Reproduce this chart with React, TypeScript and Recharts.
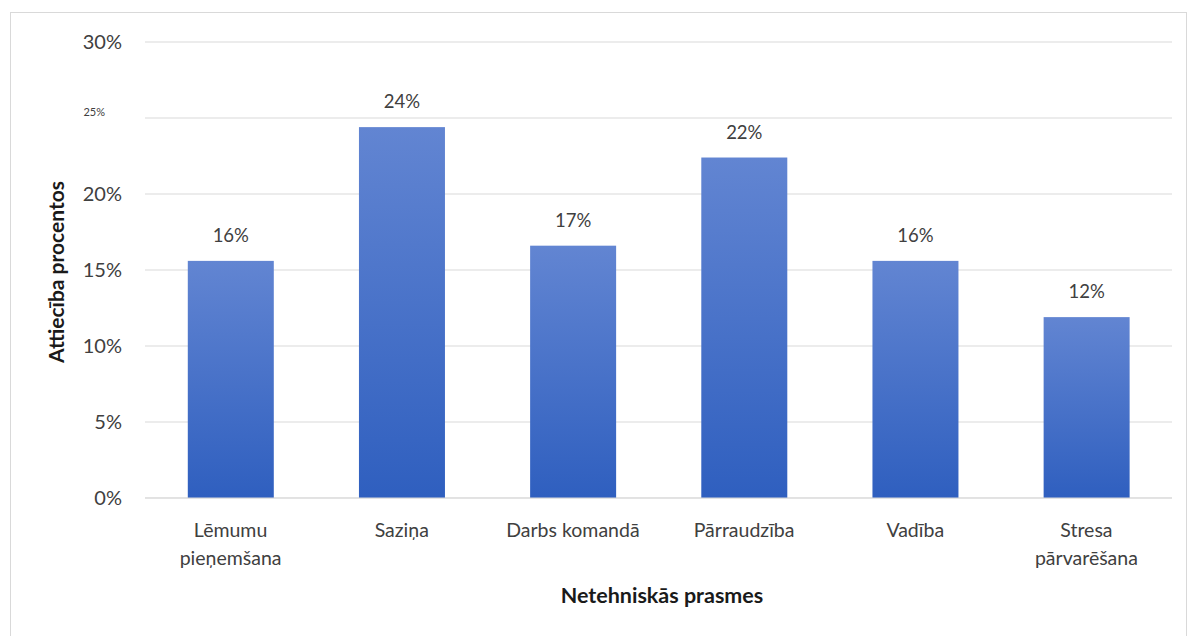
import React from 'react';
import { BarChart, Bar, XAxis, YAxis, CartesianGrid, LabelList } from 'recharts';

const categories = ['Lēmumu\npieņemšana', 'Saziņa', 'Darbs komandā', 'Pārraudzība', 'Vadība', 'Stresa\npārvarēšana'];
const shares = [15.6, 24.4, 16.6, 22.4, 15.6, 11.9];
const yTicks = [0, 5, 10, 15, 20, 25, 30];

const data = categories.map((name, i) => ({ name, value: shares[i] }));

const FONT = 'Lato, "Open Sans", sans-serif';
const TEXT = '#404040';

const XTick = ({ x, y, payload }: any) => {
    const lines = String(payload.value).split('\n');
    return (
        <text x={x} y={y + 31} textAnchor="middle" fill={TEXT} fontSize={19.5} fontFamily={FONT}>
            {lines.map((l, i) => (
                <tspan key={i} x={x} dy={i === 0 ? 0 : 28}>
                    {l}
                </tspan>
            ))}
        </text>
    );
};

const YTick = ({ x, y, payload }: any) => {
    // the 25% tick is drawn much smaller in the original
    const small = payload.value === 25;
    return (
        <text
            x={x}
            y={small ? y - 2 : y + 7}
            textAnchor="end"
            fill={TEXT}
            fontSize={small ? 11 : 20}
            fontFamily={FONT}
            dx={small ? -17 : 0}
        >
            {payload.value}%
        </text>
    );
};

const YTitle = () => (
    <text
        x={64}
        y={272}
        transform="rotate(-90, 64, 272)"
        textAnchor="middle"
        fontSize={21}
        fontWeight="bold"
        fill="#1a1a1a"
        fontFamily={FONT}
    >
        Attiecība procentos
    </text>
);

const XTitle = () => (
    <text x={662} y={603} textAnchor="middle" fontSize={21.5} fontWeight="bold" fill="#1a1a1a" fontFamily={FONT}>
        Netehniskās prasmes
    </text>
);

const GradientBar = (props: any) => {
    const { x, y, width, height, index } = props;
    const id = `barGrad${index}`;
    return (
        <g>
            <defs>
                <linearGradient id={id} x1="0" y1="0" x2="0" y2="1">
                    <stop offset="0%" stopColor="#6285d2" />
                    <stop offset="100%" stopColor="#2f5fbf" />
                </linearGradient>
            </defs>
            <rect x={x} y={y} width={width} height={height} fill={`url(#${id})`} />
        </g>
    );
};

const App = () => {
    return (
        <div style={{ position: 'absolute', left: 0, top: 0, width: 1192, height: 636, background: '#fff' }}>
            <div
                style={{
                    position: 'absolute',
                    left: 10,
                    top: 12,
                    width: 1177,
                    height: 640,
                    border: '1px solid #d9d9d9',
                    boxSizing: 'border-box',
                }}
            />
            <BarChart
                width={1192}
                height={636}
                data={data}
                margin={{ top: 42, right: 20, left: 0, bottom: 0 }}
                barCategoryGap="25%"
                style={{ position: 'absolute', left: 0, top: 0 }}
            >
                <CartesianGrid vertical={false} stroke="#d9d9d9" />
                <XAxis
                    dataKey="name"
                    height={138}
                    axisLine={{ stroke: '#d9d9d9' }}
                    tickLine={false}
                    interval={0}
                    tick={<XTick />}
                    label={<XTitle />}
                />
                <YAxis
                    width={145}
                    domain={[0, 30]}
                    ticks={yTicks}
                    axisLine={false}
                    tickLine={false}
                    tickMargin={17}
                    tick={<YTick />}
                    label={<YTitle />}
                />
                <Bar dataKey="value" fill="#4472c4" shape={<GradientBar />} isAnimationActive={false}>
                    <LabelList
                        dataKey="value"
                        position="top"
                        offset={19}
                        formatter={(v: any) => `${Math.round(v)}%`}
                        fill={TEXT}
                        fontSize={18.5}
                        fontFamily={FONT}
                    />
                </Bar>
            </BarChart>
        </div>
    );
};

export default App;
